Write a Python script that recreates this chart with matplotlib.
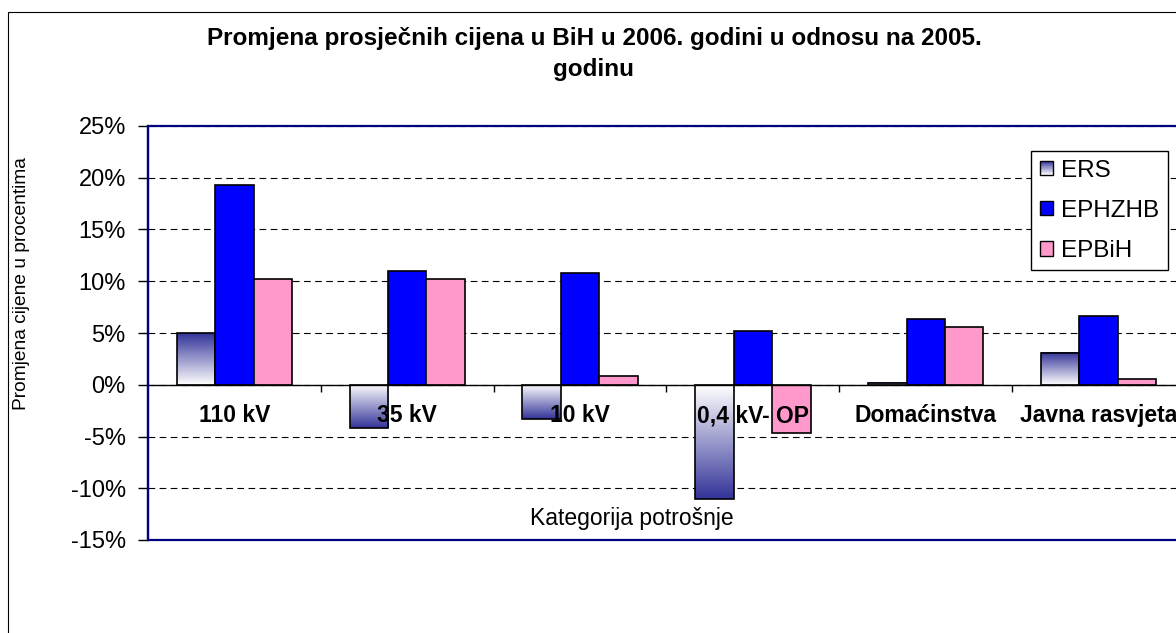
import numpy as np
import matplotlib
matplotlib.use("Agg")
import matplotlib.pyplot as plt
from matplotlib.patches import Rectangle
from matplotlib.legend_handler import HandlerBase
from matplotlib.colors import LinearSegmentedColormap
from matplotlib.ticker import FuncFormatter, FixedLocator

categories = ["110 kV", "35 kV", "10 kV", "0,4 kV- OP", "Domaćinstva", "Javna rasvjeta"]
ers = [5.0, -4.2, -3.3, -11.0, 0.2, 3.1]
ephzhb = [19.3, 11.0, 10.8, 5.2, 6.4, 6.6]
epbih = [10.2, 10.2, 0.8, -4.7, 5.6, 0.6]
series_names = ["ERS", "EPHZHB", "EPBiH"]
yticks = [-15, -10, -5, 0, 5, 10, 15, 20, 25]

NAVY = "#333399"
BORDER = "#000080"
grad_cmap = LinearSegmentedColormap.from_list("ers", ["white", NAVY])

plt.rcParams["font.family"] = ["Liberation Sans", "DejaVu Sans"]

W, H = 1176, 633


class GradientHandler(HandlerBase):
    """legend square with the same white->navy gradient as the ERS bars"""
    def create_artists(self, legend, orig_handle, xdescent, ydescent,
                       width, height, fontsize, trans):
        n = 20
        arts = []
        for k in range(n):
            r = Rectangle((-xdescent, -ydescent + k * height / n), width, height / n,
                          facecolor=grad_cmap(k / (n - 1)), edgecolor="none",
                          transform=trans)
            arts.append(r)
        arts.append(Rectangle((-xdescent, -ydescent), width, height, facecolor="none",
                              edgecolor="black", lw=1.0, transform=trans))
        return arts


fig = plt.figure(figsize=(W / 100, H / 100), dpi=100)
fig.patch.set_facecolor("white")

# outer chart border (cropped on the right and bottom)
fig.patches.append(Rectangle((8 / W, -0.05), 1.1, 1 - 12 / H + 0.05, transform=fig.transFigure,
                             fill=False, edgecolor="black", lw=0.8))

ax = fig.add_axes([148 / W, 1 - 540 / H, 1037 / W, 414 / H])

x = np.arange(len(categories))
w = 1 / 4.5
bar_kw = dict(edgecolor="black", lw=1.2, zorder=3)
b_ers = ax.bar(x - w, ers, w, facecolor="none", **bar_kw)
ax.bar(x, ephzhb, w, facecolor="#0000ff", **bar_kw)
ax.bar(x + w, epbih, w, facecolor="#ff99cc", **bar_kw)

for p in b_ers:
    x0, h = p.get_x(), p.get_height()
    grad = np.linspace(0, 1, 256).reshape(-1, 1)
    if h < 0:
        grad = grad[::-1]
    ax.imshow(grad, cmap=grad_cmap, extent=(x0, x0 + p.get_width(), min(0, h), max(0, h)),
              origin="lower", aspect="auto", zorder=2, interpolation="bilinear")

ax.set_xlim(-0.5, len(categories) - 0.5)
ax.set_ylim(-15, 25)

# category names sit just under the zero line
for xi, lab in zip(x, categories):
    ax.annotate(lab, (xi, 0), xytext=(0, -31), textcoords="offset pixels",
                ha="center", va="center", fontsize=16.5, fontweight="bold", zorder=5)

ax.spines["bottom"].set_position(("data", 0))
ax.spines["bottom"].set_color("black")
ax.spines["bottom"].set_linewidth(1.0)
ax.spines["bottom"].set_zorder(4)
ax.spines["top"].set_visible(False)
ax.spines["right"].set_visible(False)
ax.spines["left"].set_color(BORDER)
ax.spines["left"].set_linewidth(1.6)
ax.add_patch(Rectangle((0, 0), 1, 1, transform=ax.transAxes, fill=False,
                       edgecolor=BORDER, lw=1.6, zorder=6, clip_on=False))

ax.xaxis.set_major_locator(FixedLocator(x[:-1] + 0.5))
ax.tick_params(axis="x", direction="out", length=5, width=1, labelbottom=False)
ax.set_yticks(yticks)
ax.yaxis.set_major_formatter(FuncFormatter(lambda v, _: f"{v:.0f}%"))
ax.tick_params(axis="y", direction="out", length=7, width=1, pad=9, labelsize=17)
ax.yaxis.grid(True, color="black", linestyle=(0, (6, 4)), lw=0.8)
ax.set_axisbelow(True)

fig.text(594 / W, 1 - 54 / H, "Promjena prosječnih cijena u BiH u 2006. godini u odnosu na 2005.\ngodinu",
         ha="center", va="center", fontsize=17.5, fontweight="bold", linespacing=1.45)
fig.text(22 / W, 1 - 284 / H, "Promjena cijene u procentima", rotation=90,
         ha="center", va="center", fontsize=13.8)
fig.text(632 / W, 1 - 518 / H, "Kategorija potrošnje", ha="center", va="center", fontsize=16.5)

handles = [Rectangle((0, 0), 1, 1),
           Rectangle((0, 0), 1, 1, facecolor="#0000ff", edgecolor="black", lw=1.0),
           Rectangle((0, 0), 1, 1, facecolor="#ff99cc", edgecolor="black", lw=1.0)]
leg = fig.legend(handles, series_names, loc="upper left",
                 bbox_to_anchor=(1031 / W, 1 - 151 / H), borderaxespad=0,
                 fontsize=17.5, fancybox=False, edgecolor="black", framealpha=1,
                 handlelength=0.55, handleheight=0.55, handletextpad=0.35,
                 labelspacing=0.75, borderpad=0.35,
                 handler_map={handles[0]: GradientHandler()})
leg.get_frame().set_linewidth(1.0)

fig.savefig("out.png", dpi=100)
